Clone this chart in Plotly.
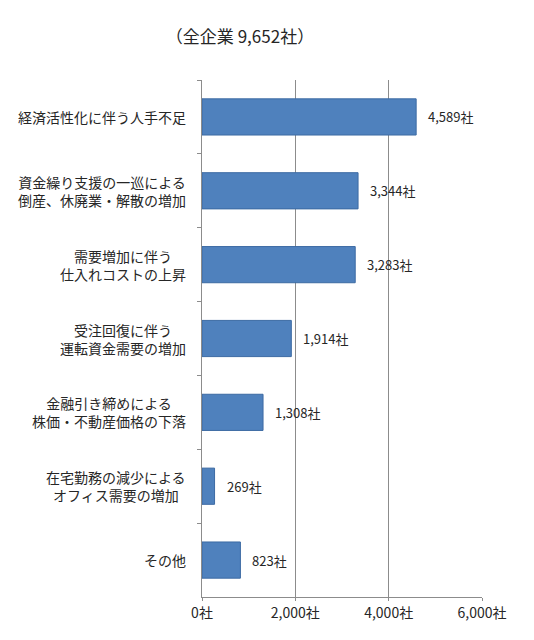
import plotly.graph_objects as go

# 回答の内訳（全企業 9,652社）
categories = [
    "経済活性化に伴う人手不足",
    "資金繰り支援の一巡による<br>倒産、休廃業・解散の増加",
    "需要増加に伴う<br>仕入れコストの上昇",
    "受注回復に伴う<br>運転資金需要の増加",
    "金融引き締めによる<br>株価・不動産価格の下落",
    "在宅勤務の減少による<br>オフィス需要の増加",
    "その他",
]
counts = [4589, 3344, 3283, 1914, 1308, 269, 823]
x_ticks = [0, 2000, 4000, 6000]
x_tick_labels = ["0社", "2,000社", "4,000社", "6,000社"]

FONT = "Noto Sans CJK JP"
TXT = "#262626"
GRID = "#8c8c8c"

# the page body keeps its default 8px margin, so the figure is a bit smaller
W, H = 526, 632

fig = go.Figure()

fig.add_trace(go.Bar(
    x=counts, y=categories,
    orientation="h",
    marker=dict(color="#4F81BD", line=dict(color="#3C6AA3", width=1)),
    hoverinfo="x+y",
))

# value labels to the right of each bar
for c, v in zip(categories, counts):
    fig.add_annotation(
        x=v, y=c, text=f"{v:,}社",
        xanchor="left", yanchor="middle", xshift=10,
        showarrow=False, font=dict(family=FONT, size=13, color=TXT),
    )

# category labels: right anchored, lines centred
for c in categories:
    fig.add_annotation(
        x=0, xref="paper", y=c, text=c,
        xanchor="right", yanchor="middle", xshift=-14, align="center",
        showarrow=False, font=dict(family=FONT, size=14, color=TXT),
    )

# faint frame line at the right edge of the picture
fig.add_shape(type="line", xref="paper", yref="paper",
              x0=1.175, x1=1.175, y0=-0.083, y1=1.139,
              line=dict(color="#cfcfcf", width=1.5))

fig.update_layout(
    width=W, height=H,
    margin=dict(l=194, r=52, t=72, b=43),
    paper_bgcolor="white", plot_bgcolor="white",
    bargap=0.51,
    showlegend=False,
    font=dict(family=FONT, size=13, color=TXT),
    title=dict(text="（全企業 9,652社）", x=232 / W, y=1 - 29 / H,
               xanchor="center", yanchor="middle",
               font=dict(family=FONT, size=17, color=TXT)),
)

fig.update_xaxes(
    range=[0, 6000], tickvals=x_ticks, ticktext=x_tick_labels,
    showgrid=True, gridcolor=GRID, gridwidth=1,
    showline=True, linecolor=GRID, linewidth=1,
    ticks="outside", ticklen=3, tickcolor=GRID,
    zeroline=False, fixedrange=True,
    tickfont=dict(family=FONT, size=14, color=TXT),
)
fig.update_yaxes(
    type="category", autorange="reversed",
    showticklabels=False, showgrid=False,
    showline=True, linecolor=GRID, linewidth=1,
    ticks="outside", tickson="boundaries", ticklen=4, tickcolor=GRID,
    fixedrange=True,
)

fig.write_html("out.html")
